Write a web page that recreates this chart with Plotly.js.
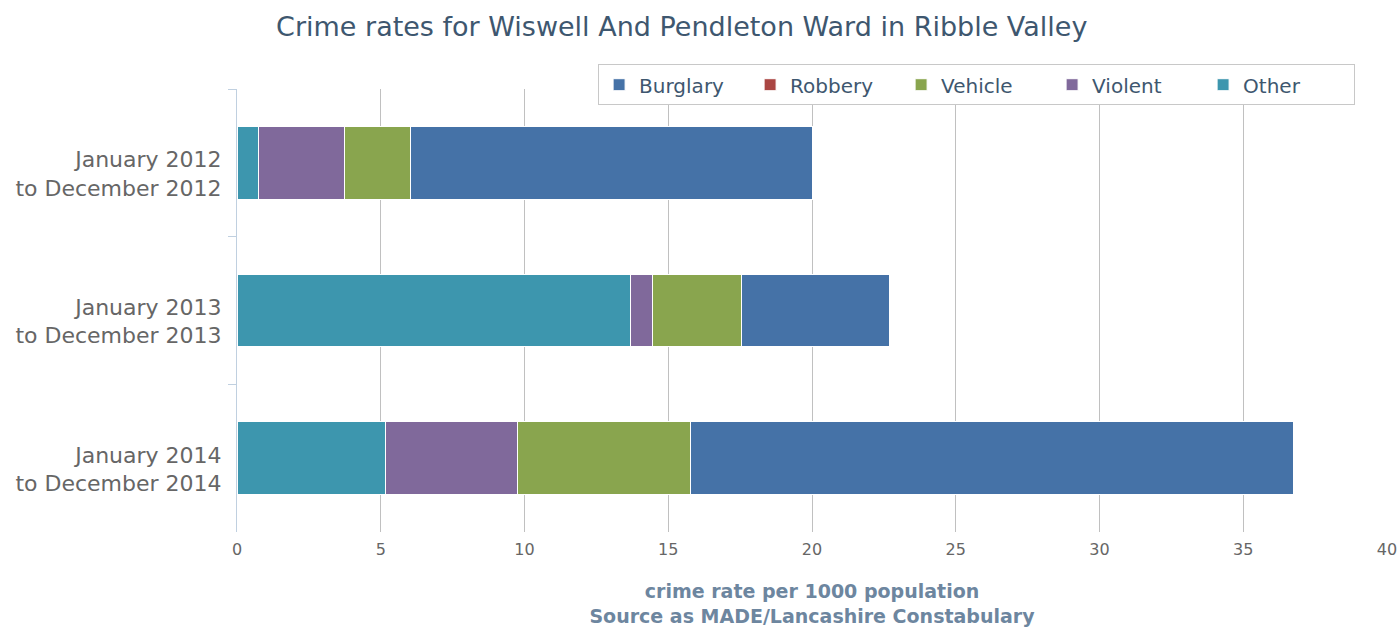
<!DOCTYPE html>
<html>
<head>
<meta charset="utf-8">
<script src="https://cdn.plot.ly/plotly-3.0.1.min.js"></script>
<style>html,body{margin:0;padding:0;background:#fff;}#chart{width:1397px;height:627px;}</style>
</head>
<body>
<div id="chart"></div>
<script>
const categories = ["January 2012<br>to December 2012", "January 2013<br>to December 2013", "January 2014<br>to December 2014"];
const seriesNames = ["Other", "Violent", "Vehicle", "Robbery", "Burglary"];
const other = [0.75, 13.7, 5.16];
const violent = [3.0, 0.75, 4.61];
const vehicle = [2.27, 3.1, 6.0];
const robbery = [0, 0, 0];
const burglary = [14.0, 5.15, 20.97];
const xTicks = [0, 5, 10, 15, 20, 25, 30, 35, 40];

const values = [other, violent, vehicle, robbery, burglary];
const colors = ["#3D96AE", "#80699B", "#89A54E", "#AA4643", "#4572A7"];
const FONT = "DejaVu Sans, Verdana, sans-serif";

const traces = seriesNames.map((name, i) => ({
  type: "bar",
  orientation: "h",
  name: name,
  y: categories,
  x: values[i],
  marker: {color: colors[i], line: {color: "#ffffff", width: 1}},
  hoverinfo: "x+name"
}));

const layout = {
  width: 1397, height: 627,
  paper_bgcolor: "#ffffff", plot_bgcolor: "#ffffff",
  font: {family: FONT, color: "#666666"},
  margin: {l: 237, r: 10, t: 89, b: 95},
  barmode: "stack",
  bargap: 0.51,
  title: {text: "Crime rates for Wiswell And Pendleton Ward in Ribble Valley",
          font: {family: FONT, size: 27, color: "#3E576F"},
          x: 0.488, xanchor: "center", y: 0.957, yanchor: "middle"},
  showlegend: true,
  legend: {orientation: "h", traceorder: "reversed",
           x: 0.314, xanchor: "left", y: 1.056, yanchor: "top",
           bordercolor: "#C8C8C8", borderwidth: 1, bgcolor: "#ffffff",
           entrywidth: 106, entrywidthmode: "pixels",
           font: {family: FONT, size: 20, color: "#3E576F"}},
  xaxis: {range: [0, 40], tickvals: xTicks, ticktext: xTicks.map(String),
          showgrid: true, gridcolor: "#C0C0C0", gridwidth: 1, zeroline: false,
          showline: false, ticks: "", tickfont: {family: FONT, size: 16, color: "#666666"},
          ticklabelstandoff: 6, ticklabeloverflow: "allow",
          title: {text: "<b>crime rate per 1000 population<br>Source as MADE/Lancashire Constabulary</b>",
                  font: {family: FONT, size: 19, color: "#6D869F"}, standoff: 26}},
  yaxis: {type: "category", range: [2.5, -0.5], showgrid: false, zeroline: false,
          showline: true, linecolor: "#C0D0E0", linewidth: 1,
          ticks: "outside", tickson: "boundaries", ticklen: 8, tickcolor: "#C0D0E0",
          tickfont: {family: FONT, size: 22, color: "#666666"}, ticklabelstandoff: 10,
          ticklabelshift: -11}
};

Plotly.newPlot("chart", traces, layout, {displayModeBar: false, staticPlot: true});
</script>
</body>
</html>
